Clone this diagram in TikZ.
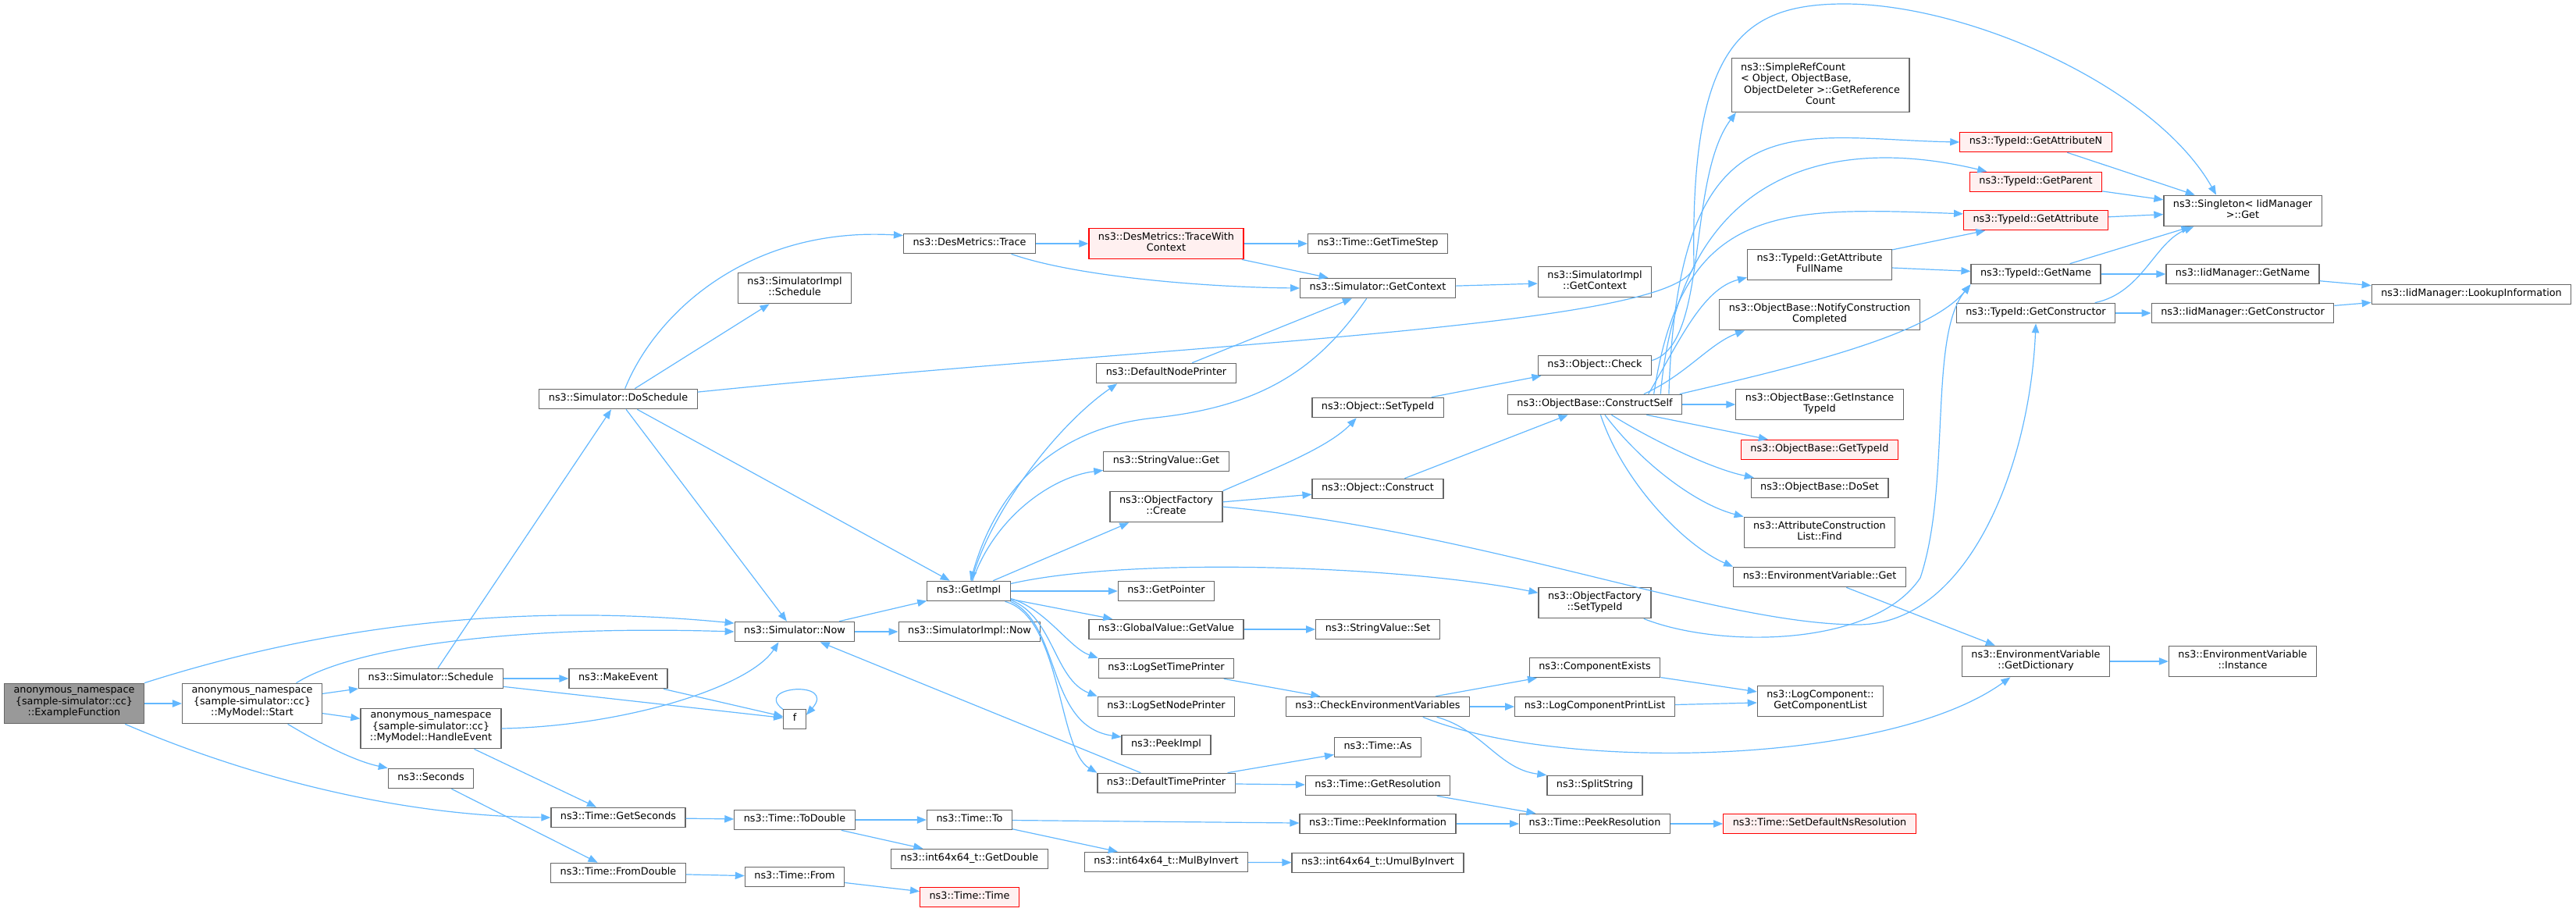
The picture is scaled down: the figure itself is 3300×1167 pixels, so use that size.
\documentclass[tikz,border=0pt]{standalone}
\usepackage{fontspec}
\setmainfont{DejaVu Sans}
\usetikzlibrary{arrows.meta}
\definecolor{edgeblue}{HTML}{63B8FF}
\definecolor{boxgray}{HTML}{666666}
\definecolor{rootgray}{HTML}{999999}
\definecolor{missfill}{HTML}{FFF0F0}

\begin{document}
\begin{tikzpicture}[x=0.75pt,y=-0.75pt,
    fn/.style={draw=boxgray, fill=white, line width=0.9pt, inner xsep=9pt, inner ysep=4.1pt,
        align=center, font=\fontsize{9.6pt}{10.9pt}\selectfont,
        execute at begin node=\strut, execute at end node=\strut},
    fnred/.style={fn, draw=red, fill=missfill},
    fnroot/.style={fn, fill=rootgray},
    call/.style={draw=edgeblue, line width=0.9pt, -{Triangle[length=9pt,width=7pt]}}]
    \useasboundingbox (0,0) rectangle (3300,1167);

    % Función raíz y primeras llamadas
    \node[fnroot] (ef) at (95,901) {anonymous\_namespace\\\{sample-simulator::cc\}\\::ExampleFunction};
    \node[fn] (start) at (323,901) {anonymous\_namespace\\\{sample-simulator::cc\}\\::MyModel::Start};
    \node[fn] (sched) at (552,869) {ns3::Simulator::Schedule};
    \node[fn] (hevent) at (552,933) {anonymous\_namespace\\\{sample-simulator::cc\}\\::MyModel::HandleEvent};
    \node[fn] (secs) at (552,997) {ns3::Seconds};

    % Columna 3 y 4
    \node[fn] (dosched) at (792,511) {ns3::Simulator::DoSchedule};
    \node[fn] (mkevent) at (792,869) {ns3::MakeEvent};
    \node[fn] (getsec) at (792,1047) {ns3::Time::GetSeconds};
    \node[fn] (fromdbl) at (792,1118) {ns3::Time::FromDouble};
    \node[fn] (implsched) at (1018,369) {ns3::SimulatorImpl\\::Schedule};
    \node[fn] (now) at (1018,809) {ns3::Simulator::Now};
    \node[fn] (f) at (1018,921) {f};
    \node[fn] (todbl) at (1018,1050) {ns3::Time::ToDouble};
    \node[fn] (tfrom) at (1018,1123) {ns3::Time::From};

    % Columna 5
    \node[fn] (trace) at (1242,312) {ns3::DesMetrics::Trace};
    \node[fn] (getimpl) at (1241,757) {ns3::GetImpl};
    \node[fn] (implnow) at (1242,809) {ns3::SimulatorImpl::Now};
    \node[fn] (tto) at (1242,1050) {ns3::Time::To};
    \node[fn] (getdbl) at (1242,1100) {ns3::int64x64\_t::GetDouble};
    \node[fnred] (ttime) at (1242,1149) {ns3::Time::Time};

    % Columna 6
    \node[fnred] (twc) at (1494,312) {ns3::DesMetrics::TraceWith\\Context};
    \node[fn] (nodepr) at (1494,478) {ns3::DefaultNodePrinter};
    \node[fn] (svget) at (1494,591) {ns3::StringValue::Get};
    \node[fn] (ofcreate) at (1494,649) {ns3::ObjectFactory\\::Create};
    \node[fn] (getptr) at (1494,757) {ns3::GetPointer};
    \node[fn] (gvget) at (1494,806) {ns3::GlobalValue::GetValue};
    \node[fn] (logtime) at (1494,856) {ns3::LogSetTimePrinter};
    \node[fn] (lognode) at (1494,905) {ns3::LogSetNodePrinter};
    \node[fn] (peekimpl) at (1494,954) {ns3::PeekImpl};
    \node[fn] (timepr) at (1494,1003) {ns3::DefaultTimePrinter};
    \node[fn] (mulinv) at (1494,1104) {ns3::int64x64\_t::MulByInvert};

    % Columna 7
    \node[fn] (tstep) at (1765,312) {ns3::Time::GetTimeStep};
    \node[fn] (getctx) at (1765,369) {ns3::Simulator::GetContext};
    \node[fn] (objtid) at (1765,522) {ns3::Object::SetTypeId};
    \node[fn] (objcons) at (1765,626) {ns3::Object::Construct};
    \node[fn] (svset) at (1765,806) {ns3::StringValue::Set};
    \node[fn] (checkenv) at (1765,905) {ns3::CheckEnvironmentVariables};
    \node[fn] (tas) at (1765,957) {ns3::Time::As};
    \node[fn] (getres) at (1765,1006) {ns3::Time::GetResolution};
    \node[fn] (peekinfo) at (1765,1055) {ns3::Time::PeekInformation};
    \node[fn] (umul) at (1765,1105) {ns3::int64x64\_t::UmulByInvert};

    % Columna 8
    \node[fn] (implctx) at (2043,361) {ns3::SimulatorImpl\\::GetContext};
    \node[fn] (objcheck) at (2043,468) {ns3::Object::Check};
    \node[fn] (cself) at (2043,518) {ns3::ObjectBase::ConstructSelf};
    \node[fn] (oftid) at (2043,772) {ns3::ObjectFactory\\::SetTypeId};
    \node[fn] (compex) at (2043,855) {ns3::ComponentExists};
    \node[fn] (printlist) at (2043,905) {ns3::LogComponentPrintList};
    \node[fn] (split) at (2043,1006) {ns3::SplitString};
    \node[fn] (peekres) at (2043,1055) {ns3::Time::PeekResolution};

    % Columna 9
    \node[fn] (refcount) at (2332,109) {\begin{tabular}{@{}l@{}}ns3::SimpleRefCount\\< Object, ObjectBase,\\\ ObjectDeleter >::GetReference\\\multicolumn{1}{@{}c@{}}{Count}\end{tabular}};
    \node[fn] (attrfull) at (2331,339) {ns3::TypeId::GetAttribute\\FullName};
    \node[fn] (notify) at (2331,403) {ns3::ObjectBase::NotifyConstruction\\Completed};
    \node[fn] (insttid) at (2331,518) {ns3::ObjectBase::GetInstance\\TypeId};
    \node[fnred] (obtid) at (2331,576) {ns3::ObjectBase::GetTypeId};
    \node[fn] (doset) at (2331,625) {ns3::ObjectBase::DoSet};
    \node[fn] (aclfind) at (2331,682) {ns3::AttributeConstruction\\List::Find};
    \node[fn] (envget) at (2331,739) {ns3::EnvironmentVariable::Get};
    \node[fn] (complist) at (2332,898) {ns3::LogComponent::\\GetComponentList};
    \node[fnred] (setdefres) at (2331,1055) {ns3::Time::SetDefaultNsResolution};

    % Columnas 10 a 12
    \node[fnred] (attrn) at (2608,182) {ns3::TypeId::GetAttributeN};
    \node[fnred] (parent) at (2608,233) {ns3::TypeId::GetParent};
    \node[fnred] (attr) at (2608,282) {ns3::TypeId::GetAttribute};
    \node[fn] (tidname) at (2608,351) {ns3::TypeId::GetName};
    \node[fn] (tidcons) at (2608,401) {ns3::TypeId::GetConstructor};
    \node[fn] (envdict) at (2608,847) {ns3::EnvironmentVariable\\::GetDictionary};
    \node[fn] (single) at (2873,270) {ns3::Singleton< IidManager\\ >::Get};
    \node[fn] (iidname) at (2873,351) {ns3::IidManager::GetName};
    \node[fn] (iidcons) at (2873,401) {ns3::IidManager::GetConstructor};
    \node[fn] (envinst) at (2873,847) {ns3::EnvironmentVariable\\::Instance};
    \node[fn] (lookup) at (3166,377) {ns3::IidManager::LookupInformation};

    % Llamadas rectas
    \foreach \a/\b in {ef/start, start/sched, start/hevent, sched/dosched, sched/mkevent, sched/f,
        mkevent/f, hevent/getsec, secs/fromdbl, dosched/implsched, dosched/now, dosched/getimpl,
        now/getimpl, now/implnow, trace/twc, twc/tstep, twc/getctx, getctx/implctx, nodepr/getctx,
        getimpl/ofcreate, getimpl/getptr, getimpl/gvget, gvget/svset, ofcreate/objcons,
        objtid/objcheck, objcons/cself, logtime/checkenv, checkenv/compex, checkenv/printlist,
        compex/complist, printlist/complist, timepr/now, timepr/tas, timepr/getres, getres/peekres,
        peekinfo/peekres, peekres/setdefres, getsec/todbl, todbl/tto, todbl/getdbl, tto/peekinfo,
        tto/mulinv, mulinv/umul, fromdbl/tfrom, tfrom/ttime, cself/insttid, cself/obtid,
        attrfull/attr, attrfull/tidname, attrn/single, parent/single, attr/single, tidname/single,
        tidname/iidname, tidcons/iidcons, iidname/lookup, iidcons/lookup, envget/envdict,
        envdict/envinst}
        \draw[call] (\a) -- (\b);

    % Llamadas curvas a la izquierda
    \draw[call] (ef.north east) .. controls (450,790) and (700,775) .. (now.172);
    \draw[call] (ef.-22) .. controls (330,1000) and (520,1045) .. (getsec.west);
    \draw[call] (start.25) .. controls (450,830) and (650,800) .. (now.west);
    \draw[call] (start.-30) .. controls (420,958) and (460,976) .. (secs.north west);
    \draw[call] (hevent.east) .. controls (800,930) and (960,880) .. (now.213);
    \draw[call] (f.140) .. controls +(-40,-30) and +(40,-45) .. (f.20);

    % DoSchedule
    \draw[call] (dosched.57) .. controls (840,400) and (960,290) .. (trace.173);
    \draw[call] (dosched.5) .. controls (1500,440) and (2160,420) .. (2170,340)
        .. controls (2165,60) and (2230,5) .. (2363,5)
        .. controls (2520,5) and (2760,110) .. (single.149);

    % Trace, GetContext y GetImpl
    \draw[call] (trace.-14) .. controls (1380,355) and (1550,368) .. (getctx.west);
    \draw[call] (getctx.223) .. controls (1690,470) and (1620,520) .. (1480,535)
        .. controls (1330,550) and (1270,650) .. (getimpl.80);
    \draw[call] (getimpl.75) .. controls (1270,650) and (1360,540) .. (nodepr.192);
    \draw[call] (getimpl.70) .. controls (1275,660) and (1350,610) .. (svget.188);
    \draw[call] (getimpl.10) .. controls (1450,712) and (1800,725) .. (oftid.170);
    \draw[call] (getimpl.-10) .. controls (1340,780) and (1370,830) .. (logtime.north west);
    \draw[call] (getimpl.-12) .. controls (1350,790) and (1350,870) .. (lognode.north west);
    \draw[call] (getimpl.-14) .. controls (1360,800) and (1340,930) .. (peekimpl.170);
    \draw[call] (getimpl.-16) .. controls (1360,790) and (1355,960) .. (timepr.north west);

    % ObjectFactory
    \draw[call] (ofcreate.north east) .. controls (1620,605) and (1700,575) .. (objtid.206);
    \draw[call] (ofcreate.east) .. controls (1900,680) and (2200,800) .. (2380,800)
        .. controls (2520,800) and (2600,600) .. (tidcons.south);
    \draw[call] (oftid.-18) .. controls (2200,830) and (2400,830) .. (2460,740)
        .. controls (2500,620) and (2470,430) .. (tidname.south west);

    % CheckEnvironmentVariables
    \draw[call] (checkenv.-10) .. controls (1900,935) and (1920,985) .. (split.north west);
    \draw[call] (checkenv.-13) .. controls (2000,990) and (2420,980) .. (envdict.212);

    % ConstructSelf y Check
    \draw[call] (objcheck.5) .. controls (2190,440) and (2160,230) .. (refcount.198);
    \draw[call] (cself.8) .. controls (2150,120) and (2300,178) .. (attrn.west);
    \draw[call] (cself.9) .. controls (2155,190) and (2380,180) .. (parent.168);
    \draw[call] (cself.10) .. controls (2155,260) and (2280,265) .. (attr.175);
    \draw[call] (cself.11) .. controls (2150,440) and (2180,370) .. (attrfull.190);
    \draw[call] (cself.12) .. controls (2160,480) and (2190,440) .. (notify.192);
    \draw[call] (cself.7) .. controls (2300,470) and (2470,430) .. (tidname.south west);
    \draw[call] (cself.-32) .. controls (2110,560) and (2190,600) .. (doset.171);
    \draw[call] (cself.-46) .. controls (2100,590) and (2170,645) .. (aclfind.north west);
    \draw[call] (cself.-61) .. controls (2080,620) and (2160,700) .. (envget.north west);

    % TypeId
    \draw[call] (tidcons.10) .. controls (2745,375) and (2760,310) .. (single.198);
\end{tikzpicture}
\end{document}
